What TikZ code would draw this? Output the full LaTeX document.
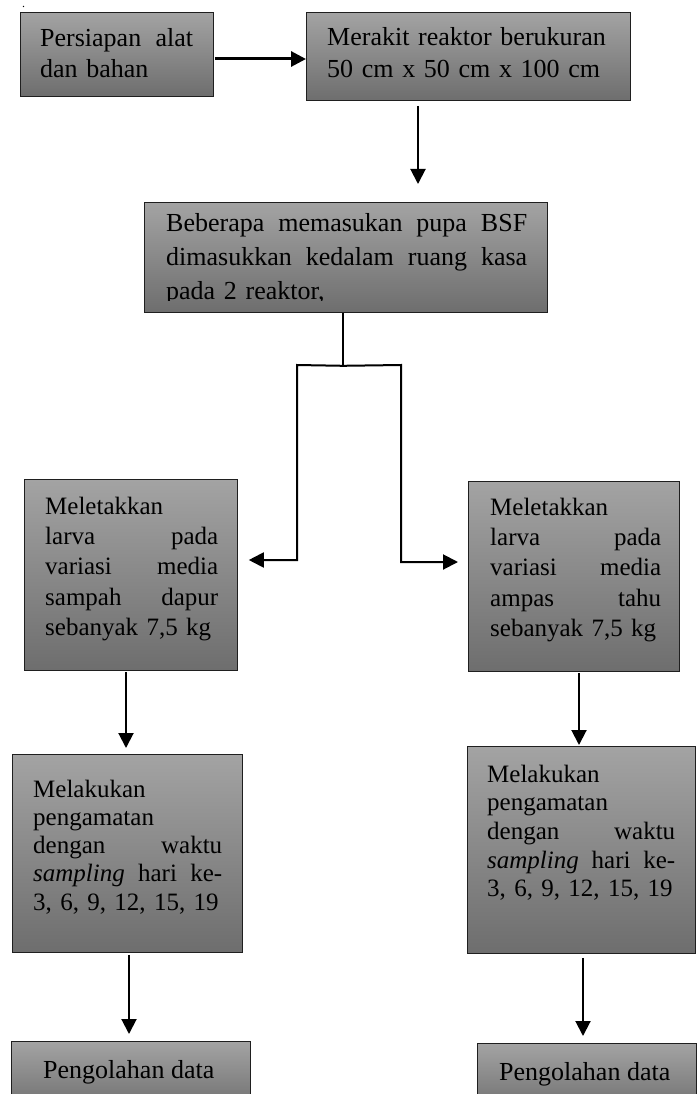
\documentclass[tikz,border=0pt]{standalone}
\usepackage{fontspec}
\setmainfont{Liberation Serif}
\usetikzlibrary{arrows.meta,calc}
\tikzset{
  box/.style={draw=black!88, line width=0.8pt, top color=black!36, bottom color=black!57,
    inner sep=0pt, anchor=north west},
  txt/.style={anchor=base west, inner sep=0pt, align=left},
  fa/.style={font=\fontsize{26}{30.5}\selectfont},
  arr/.style={line width=2pt, -{Triangle[length=15pt,width=15pt]}},
  arrthick/.style={line width=3pt, -{Triangle[length=15pt,width=15pt]}},
  link/.style={line width=2pt}
}
\begin{document}
\begin{tikzpicture}[x=1pt,y=-1pt]
\useasboundingbox (0,0) rectangle (697,1094);
% stray dot
\node[txt, font=\fontsize{12}{12}\selectfont] (dot) at (22,8) {.};
% boxes
\node[box, minimum width=193pt, minimum height=84pt] (b1) at (20,12) {};
\node[box, minimum width=324pt, minimum height=88pt] (b2) at (306,12) {};
\node[box, minimum width=403pt, minimum height=110pt] (b3) at (144,202) {};
\node[box, minimum width=213pt, minimum height=191pt] (l1) at (24,479) {};
\node[box, minimum width=211pt, minimum height=190pt] (r1) at (468,481) {};
\node[box, minimum width=230pt, minimum height=198pt] (l2) at (12,754) {};
\node[box, minimum width=228pt, minimum height=207pt] (r2) at (467,746) {};
\node[box, minimum width=239pt, minimum height=70pt] (l3) at (11,1041) {};
\node[box, minimum width=219pt, minimum height=70pt] (r3) at (477,1043) {};
% texts
\node[txt, font=\fontsize{26}{31}\selectfont, text width=153pt] (t1) at (40,47)
  {Persiapan\hfill alat\\dan bahan};
\node[txt, font=\fontsize{26}{32}\selectfont, text width=300pt] (t2) at (327,46)
  {Merakit reaktor berukuran\\50 cm x 50 cm x 100 cm};
\begin{scope}
\clip (144,202) rectangle (547,300);
\node[txt, font=\fontsize{26}{34}\selectfont, text width=361pt] (t3) at (166,231)
  {Beberapa\hfill memasukan\hfill pupa\hfill BSF\\
   dimasukkan\hfill kedalam\hfill ruang\hfill kasa\\
   pada 2 reaktor,};
\end{scope}
\node[txt, font=\fontsize{25}{30.4}\selectfont, text width=173pt] (t4) at (45,514)
  {Meletakkan\\larva\hfill pada\\variasi\hfill media\\sampah\hfill dapur\\\mbox{sebanyak 7,5 kg}};
\node[txt, font=\fontsize{25}{30.4}\selectfont, text width=171pt] (t5) at (490,515)
  {Meletakkan\\larva\hfill pada\\variasi\hfill media\\ampas\hfill tahu\\\mbox{sebanyak 7,5 kg}};
\node[txt, font=\fontsize{25}{28.3}\selectfont, text width=189pt] (t6) at (33,797)
  {Melakukan\\pengamatan\\dengan\hfill waktu\\\textit{sampling}\hfill hari\hfill ke-\\\mbox{3, 6, 9, 12, 15, 19}};
\node[txt, font=\fontsize{25}{28.7}\selectfont, text width=188pt] (t7) at (487,782)
  {Melakukan\\pengamatan\\dengan\hfill waktu\\\textit{sampling}\hfill hari\hfill ke-\\\mbox{3, 6, 9, 12, 15, 19}};
\node[txt, fa] (t8) at (43,1078) {Pengolahan data};
\node[txt, fa] (t9) at (499,1080) {Pengolahan data};
% connectors
\draw[arrthick] ($(b1.north east)+(1,47)$) -- ($(b2.north west)+(0,47)$);
\coordinate (a2s) at ($(b2.south west)+(112,5)$);
\coordinate (a2e) at ($(b3.north west)+(274,-18)$);
\draw[arr] (a2s) -- (a2e);
\coordinate (split) at ($(b3.south west)+(199,53)$);
\coordinate (jl) at (297,365);
\coordinate (jr) at (401,365);
\coordinate (tipl) at ($(l1.north east)+(11,81)$);
\coordinate (tipr) at ($(r1.north west)+(-10,81)$);
\draw[link] (b3.south -| split) -- (split);
\draw[arr] (split) -- (jl) -- (jl |- tipl) -- (tipl);
\draw[arr] (split) -- (jr) -- (jr |- tipr) -- (tipr);
\coordinate (a3s) at ($(l1.south west)+(102,1)$);
\coordinate (a3e) at ($(l2.north west)+(114,-6)$);
\draw[arr] (a3s) -- (a3e);
\coordinate (a4s) at ($(r1.south west)+(111,1)$);
\coordinate (a4e) at ($(r2.north west)+(112,-1)$);
\draw[arr] (a4s) -- (a4e);
\coordinate (a5s) at ($(l2.south west)+(117,2)$);
\coordinate (a5e) at ($(l3.north west)+(118,-7)$);
\draw[arr] (a5s) -- (a5e);
\coordinate (a6s) at ($(r2.south west)+(116,4)$);
\coordinate (a6e) at ($(r3.north west)+(106,-7)$);
\draw[arr] (a6s) -- (a6e);
\end{tikzpicture}
\end{document}
